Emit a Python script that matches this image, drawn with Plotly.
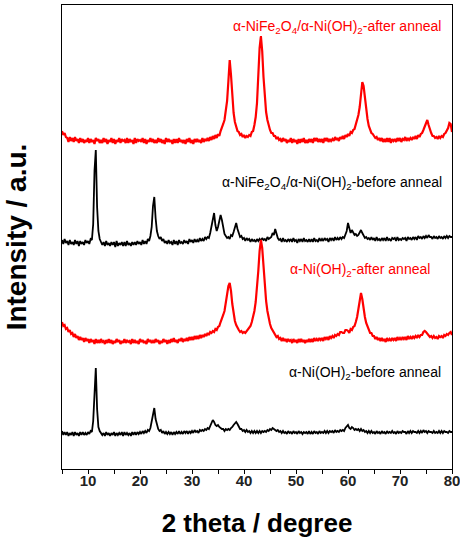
import numpy as np
import plotly.graph_objects as go

# 2-theta grid (degrees), 0.25 deg steps from 5 to 80
two_theta = np.round(np.arange(5, 80.001, 0.25), 2)

# Stacked intensities (a.u., offsets included), one row per degree (x.00, x.25, x.50, x.75)
nife_after = [
    338, 334, 336, 332,  331, 327, 332, 328,  331, 327, 332, 328,  330, 326, 331, 327,
    330, 326, 329, 327,  331, 326, 330, 327,  329, 325, 331, 328,  330, 326, 329, 326,
    331, 327, 330, 325,  329, 327, 331, 326,  330, 325, 329, 327,  331, 326, 330, 328,
    329, 326, 331, 326,  330, 327, 329, 325,  331, 326, 330, 328,  329, 327, 331, 326,
    330, 325, 329, 327,  331, 327, 330, 326,  329, 326, 331, 327,  330, 326, 329, 325,
    331, 327, 330, 327,  329, 325, 330, 326,  330, 326, 331, 327,  329, 326, 329, 325,
    330, 327, 331, 326,  329, 325, 330, 327,  330, 327, 329, 326,  331, 327, 330, 328,
    331, 328, 332, 329,  333, 330, 334, 331,  335, 333, 338, 341,  345, 349, 357, 368,
    388, 409, 394, 370,  356, 347, 342, 338,  337, 334, 335, 332,  334, 331, 333, 332,
    334, 333, 337, 338,  344, 352, 366, 395,  421, 433, 418, 392,  370, 357, 349, 343,
    339, 336, 336, 333,  333, 330, 332, 329,  330, 327, 331, 328,  330, 326, 329, 327,
    331, 326, 330, 327,  329, 325, 330, 326,  330, 327, 331, 326,  329, 326, 330, 327,
    330, 326, 331, 328,  331, 327, 330, 327,  330, 326, 331, 328,  331, 327, 330, 328,
    330, 328, 332, 329,  331, 328, 332, 330,  333, 330, 334, 332,  335, 333, 337, 336,
    339, 340, 345, 348,  354, 362, 374, 387,  383, 371, 358, 350,  343, 340, 336, 335,
    333, 331, 332, 329,  331, 328, 331, 327,  330, 327, 331, 327,  331, 326, 330, 328,
    330, 327, 331, 328,  331, 327, 330, 329,  332, 328, 331, 329,  331, 329, 332, 330,
    333, 330, 334, 332,  335, 336, 339, 343,  347, 349, 344, 339,  336, 333, 333, 331,
    332, 330, 333, 331,  333, 332, 335, 336,  339, 341, 346, 345,
    337,
]

nife_before = [
    229, 225, 230, 226,  228, 224, 229, 225,  227, 224, 229, 225,  228, 223, 228, 225,
    227, 224, 229, 226,  228, 225, 230, 229,  245, 298, 319, 262,  238, 230, 227, 224,
    227, 223, 228, 224,  226, 223, 227, 224,  227, 222, 228, 223,  226, 224, 227, 223,
    227, 223, 228, 224,  226, 223, 227, 224,  227, 224, 228, 225,  227, 224, 229, 225,
    228, 225, 230, 228,  233, 242, 263, 272,  251, 238, 233, 230,  232, 228, 230, 226,
    228, 225, 229, 226,  227, 224, 229, 225,  228, 224, 229, 226,  227, 225, 229, 226,
    228, 225, 230, 227,  229, 226, 230, 227,  229, 227, 231, 228,  230, 228, 232, 230,
    232, 231, 236, 242,  250, 256, 244, 238,  242, 248, 254, 249,  241, 235, 233, 231,
    232, 230, 234, 233,  237, 243, 246, 240,  235, 232, 233, 230,  231, 228, 231, 229,
    230, 227, 230, 228,  229, 227, 230, 228,  230, 228, 231, 229,  230, 228, 232, 230,
    231, 232, 236, 234,  240, 234, 231, 229,  230, 227, 231, 228,  229, 227, 230, 228,
    230, 227, 231, 228,  229, 226, 230, 228,  230, 227, 231, 228,  229, 227, 230, 227,
    230, 227, 231, 228,  229, 227, 231, 228,  230, 228, 231, 229,  230, 227, 231, 229,
    231, 228, 232, 229,  231, 229, 232, 230,  232, 231, 234, 238,  246, 240, 236, 239,
    237, 234, 235, 233,  234, 236, 239, 236,  233, 231, 232, 230,  231, 229, 232, 229,
    231, 228, 232, 229,  230, 228, 231, 229,  231, 228, 232, 229,  230, 228, 231, 230,
    231, 228, 232, 229,  230, 229, 231, 230,  231, 228, 232, 230,  231, 229, 232, 230,
    232, 229, 233, 231,  232, 230, 233, 231,  233, 231, 234, 232,  232, 230, 233, 231,
    232, 230, 233, 231,  232, 230, 233, 231,  233, 231, 233, 232,
    232,
]

nioh_after = [
    147, 143, 144, 140,  141, 137, 139, 135,  136, 132, 135, 131,  133, 129, 132, 129,
    131, 127, 131, 128,  130, 126, 130, 127,  129, 125, 130, 126,  129, 126, 130, 127,
    128, 125, 129, 126,  130, 126, 129, 125,  128, 126, 130, 127,  129, 125, 128, 126,
    130, 126, 129, 127,  128, 125, 130, 126,  129, 126, 128, 125,  130, 127, 129, 126,
    128, 125, 130, 127,  129, 126, 128, 126,  130, 127, 129, 125,  128, 126, 130, 127,
    129, 125, 129, 126,  130, 127, 131, 127,  129, 126, 130, 128,  131, 127, 130, 128,
    131, 128, 132, 129,  132, 129, 133, 130,  133, 130, 134, 131,  134, 132, 135, 133,
    136, 134, 137, 136,  138, 137, 140, 139,  142, 143, 147, 150,  154, 158, 166, 174,
    183, 186, 178, 165,  154, 148, 144, 141,  139, 137, 138, 136,  137, 136, 138, 139,
    141, 143, 147, 152,  158, 167, 180, 198,  218, 229, 221, 202,  183, 168, 158, 150,
    145, 141, 139, 136,  135, 132, 133, 130,  131, 128, 131, 128,  130, 127, 130, 128,
    129, 126, 130, 127,  129, 126, 130, 127,  130, 127, 129, 126,  129, 127, 130, 127,
    130, 127, 131, 128,  130, 128, 131, 129,  131, 128, 132, 130,  132, 129, 133, 131,
    133, 131, 134, 133,  135, 134, 137, 137,  136, 136, 139, 139,  138, 136, 140, 139,
    142, 143, 147, 152,  160, 170, 176, 170,  160, 152, 146, 142,  139, 136, 136, 133,
    133, 130, 132, 129,  131, 128, 131, 128,  130, 127, 131, 128,  130, 128, 131, 129,
    131, 128, 132, 129,  131, 129, 132, 130,  132, 129, 133, 130,  132, 130, 133, 131,
    133, 131, 134, 132,  134, 134, 137, 138,  137, 135, 134, 132,  133, 131, 133, 131,
    132, 130, 133, 132,  133, 131, 134, 133,  135, 134, 136, 137,
    134,
]

nioh_before = [
    38, 34, 37, 34,  37, 33, 36, 34,  37, 33, 37, 34,  36, 33, 37, 34,
    37, 34, 36, 34,  37, 35, 38, 37,  48, 85, 101, 60,  42, 38, 36, 34,
    36, 33, 37, 34,  36, 33, 36, 34,  37, 33, 36, 34,  36, 34, 37, 33,
    37, 34, 36, 34,  36, 33, 37, 34,  37, 34, 37, 35,  37, 35, 38, 36,
    38, 36, 39, 38,  41, 47, 55, 61,  50, 43, 40, 38,  39, 36, 38, 35,
    37, 35, 37, 35,  37, 34, 37, 35,  37, 35, 38, 35,  37, 35, 38, 36,
    38, 35, 38, 36,  38, 36, 39, 37,  38, 36, 39, 38,  39, 38, 40, 39,
    41, 40, 43, 46,  49, 47, 44, 43,  44, 42, 41, 40,  40, 38, 40, 39,
    40, 39, 41, 42,  44, 46, 47, 45,  42, 40, 40, 38,  39, 37, 39, 37,
    38, 36, 38, 36,  38, 36, 38, 36,  38, 36, 38, 37,  38, 37, 39, 38,
    40, 39, 41, 40,  39, 38, 39, 37,  38, 36, 38, 36,  37, 35, 38, 36,
    37, 35, 38, 36,  37, 35, 38, 36,  37, 35, 37, 36,  37, 35, 38, 35,
    37, 35, 38, 36,  37, 35, 38, 36,  37, 36, 38, 36,  38, 36, 38, 37,
    38, 36, 39, 37,  38, 37, 39, 38,  39, 38, 41, 43,  44, 41, 40, 42,
    41, 39, 40, 39,  40, 38, 40, 38,  39, 37, 38, 36,  38, 36, 38, 36,
    37, 35, 38, 36,  37, 35, 38, 36,  37, 35, 38, 36,  37, 36, 38, 36,
    37, 35, 38, 36,  37, 36, 38, 37,  37, 35, 38, 36,  38, 36, 38, 37,
    37, 36, 38, 36,  38, 36, 39, 37,  38, 36, 38, 37,  37, 36, 38, 36,
    37, 36, 38, 36,  38, 36, 38, 37,  37, 36, 38, 37,
    37,
]

series_names = [
    "α-NiFe2O4/α-Ni(OH)2-after anneal",
    "α-NiFe2O4/α-Ni(OH)2-before anneal",
    "α-Ni(OH)2-after anneal",
    "α-Ni(OH)2-before anneal",
]
series_values = [nife_after, nife_before, nioh_after, nioh_before]
series_colors = ["#ff0000", "#000000", "#ff0000", "#000000"]
series_widths = [2.2, 1.8, 2.2, 1.8]

label_texts = [
    "α-NiFe<sub>2</sub>O<sub>4</sub>/α-Ni(OH)<sub>2</sub>-after anneal",
    "α-NiFe<sub>2</sub>O<sub>4</sub>/α-Ni(OH)<sub>2</sub>-before anneal",
    "α-Ni(OH)<sub>2</sub>-after anneal",
    "α-Ni(OH)<sub>2</sub>-before anneal",
]
label_x = [57.8, 57.0, 62.3, 63.2]
label_y = [442, 286, 199, 96]

x_tick_vals = [10, 20, 30, 40, 50, 60, 70, 80]
x_tick_text = ["10", "20", "30", "40", "50", "60", "70", "80"]

for v in series_values:
    assert len(v) == len(two_theta), len(v)

fig = go.Figure()
for name, vals, col, w in zip(series_names, series_values, series_colors, series_widths):
    fig.add_trace(go.Scatter(x=two_theta, y=vals, mode="lines", name=name,
                             line=dict(color=col, width=w), showlegend=False))

for txt, lx, ly, col in zip(label_texts, label_x, label_y, series_colors):
    fig.add_annotation(x=lx, y=ly, text=txt, showarrow=False,
                       font=dict(family="Arial, Liberation Sans", size=14, color=col),
                       xanchor="center", yanchor="middle")

fig.update_layout(
    width=460, height=542,
    margin=dict(l=62, r=8, t=5, b=73),
    paper_bgcolor="white", plot_bgcolor="white",
    font=dict(family="Arial, Liberation Sans", color="#000"),
    xaxis=dict(
        range=[5, 80], tickvals=x_tick_vals, ticktext=x_tick_text,
        ticks="outside", ticklen=4, tickwidth=1.3, tickcolor="#000",
        minor=dict(tickvals=[5, 15, 25, 35, 45, 55, 65, 75], ticks="outside",
                   ticklen=4, tickwidth=1.3, tickcolor="#000"),
        showline=True, linecolor="#000", linewidth=1.3, mirror=True,
        showgrid=False, zeroline=False,
        tickfont=dict(size=15, color="#222", family="Arial, Liberation Sans", weight="bold"),
        ticklabelstandoff=-6, ticklabeloverflow="allow",
        title=dict(text="<b>2 theta / degree</b>", font=dict(size=26, color="#000"),
                   standoff=25),
        automargin=False,
    ),
    yaxis=dict(
        range=[0, 464], showticklabels=False, ticks="",
        showline=True, linecolor="#000", linewidth=1.3, mirror=True,
        showgrid=False, zeroline=False,
        title=dict(text="<b>Intensity / a.u.</b>", font=dict(size=28, color="#000"),
                   standoff=26),
        automargin=False,
    ),
)

fig.write_html("out.html")
